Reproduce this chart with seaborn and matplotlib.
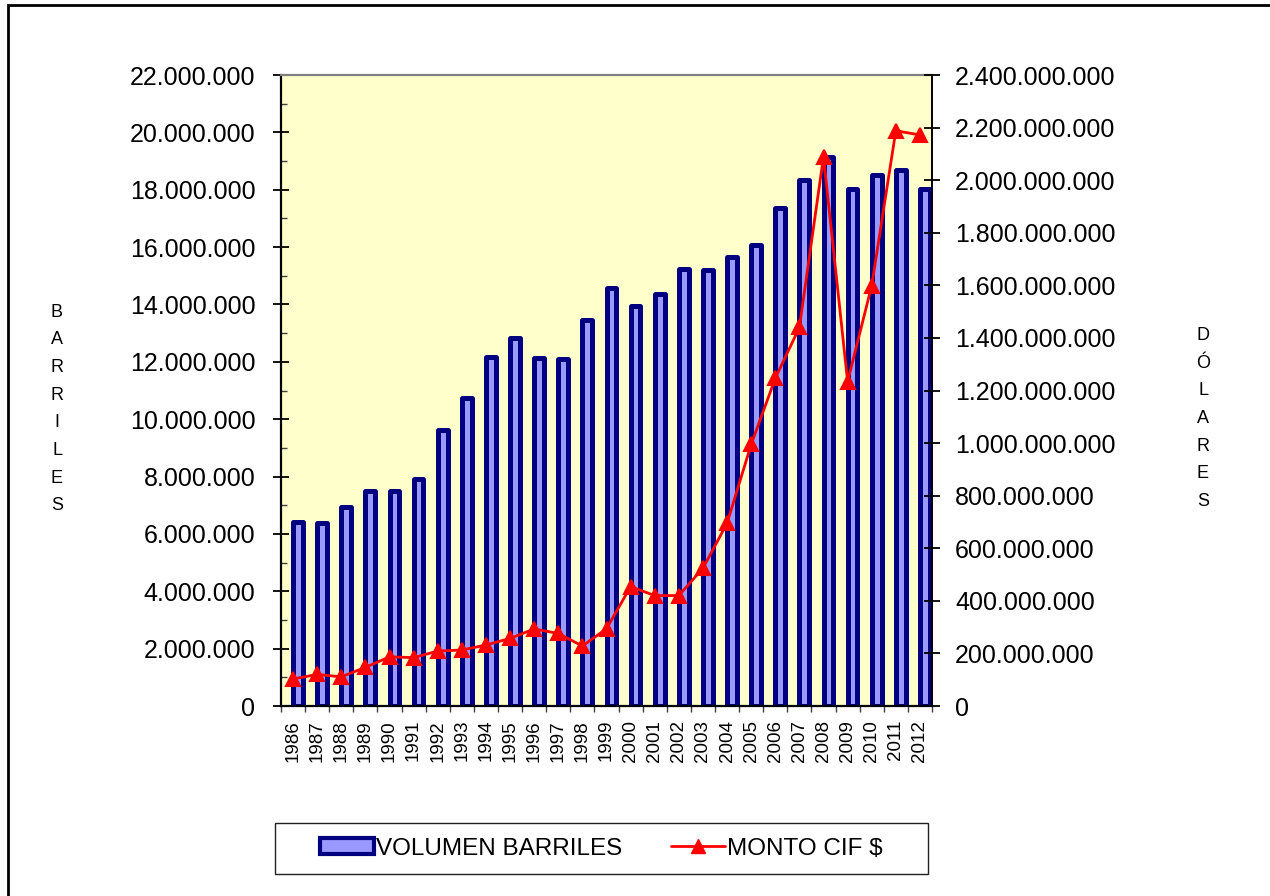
import numpy as np
import pandas as pd
import matplotlib
matplotlib.use("Agg")
import matplotlib.pyplot as plt
import matplotlib.patches as mpatches
from matplotlib.lines import Line2D
from matplotlib.ticker import FuncFormatter, MultipleLocator
import seaborn as sns

# ---- data ----
years = [str(y) for y in range(1986, 2013)]
volumen_barriles = [6.42e6, 6.37e6, 6.95e6, 7.49e6, 7.49e6, 7.91e6, 9.61e6, 10.74e6,
                    12.18e6, 12.84e6, 12.12e6, 12.09e6, 13.45e6, 14.58e6, 13.95e6,
                    14.38e6, 15.25e6, 15.21e6, 15.67e6, 16.06e6, 17.38e6, 18.34e6,
                    19.15e6, 18.04e6, 18.52e6, 18.69e6, 18.01e6]
monto_cif = [103e6, 120e6, 111e6, 147e6, 187e6, 184e6, 209e6, 213e6, 232e6, 257e6,
             293e6, 276e6, 228e6, 294e6, 454e6, 420e6, 420e6, 524e6, 695e6, 995e6,
             1246e6, 1440e6, 2089e6, 1234e6, 1599e6, 2188e6, 2172e6]
serie_bar = "VOLUMEN BARRILES"
serie_line = "MONTO CIF $"
left_ticks = list(range(0, 22000001, 2000000))
right_ticks = list(range(0, 2400000001, 200000000))

sns.set_theme(style="white")
plt.rcParams['font.family'] = ['Liberation Sans', 'DejaVu Sans']
plt.rcParams['text.color'] = 'black'
plt.rcParams['xtick.color'] = 'black'
plt.rcParams['ytick.color'] = 'black'
plt.rcParams['xtick.labelcolor'] = 'black'
plt.rcParams['ytick.labelcolor'] = 'black'

W, H = 1270, 896
fig = plt.figure(figsize=(W / 100, H / 100), dpi=100)
fig.patch.set_facecolor("white")
L, R, T, B = 281, 932, 75, 706
ax = fig.add_axes([L / W, 1 - B / H, (R - L) / W, (B - T) / H])
ax.set_facecolor("#FFFFCC")

df = pd.DataFrame({"year": years, "valor": volumen_barriles, "serie": serie_bar})
sns.barplot(data=df, x="year", y="valor", hue="serie", hue_order=["_", serie_bar],
            palette={"_": "#9999FF", serie_bar: "#9999FF"}, width=0.82, dodge=True,
            edgecolor="#000080", linewidth=3.6, saturation=1, legend=False, ax=ax, zorder=2)
for p in ax.patches:
    p.set_joinstyle("round")

n = len(years)
ax.set_xlim(-0.5, n - 0.5)
ax.set_ylim(0, 22000000)
ax.set_yticks(left_ticks)
ax.yaxis.set_minor_locator(MultipleLocator(1000000))
fmt = FuncFormatter(lambda v, p: f"{int(round(v)):,}".replace(",", "."))
ax.yaxis.set_major_formatter(fmt)
ax.tick_params(axis="y", which="major", direction="inout", length=11, width=1.3,
               color="black", labelcolor="black", labelsize=18, pad=13, left=True)
ax.tick_params(axis="y", which="minor", direction="in", length=4, width=1.0,
               color="#404040", left=True)

ax.set_xticks(np.arange(n + 1) - 0.5)
ax.set_xticklabels([])
ax.set_xticks(np.arange(n), minor=True)
ax.set_xticklabels(years, minor=True, rotation=90)
ax.tick_params(axis="x", which="major", direction="out", length=4.5, width=1.0,
               color="#404040", bottom=True)
ax.tick_params(axis="x", which="minor", length=0, labelsize=13.5, pad=10,
               labelcolor="black", bottom=True)
ax.set_xlabel("")
ax.set_ylabel("")

for s in ["left", "bottom"]:
    ax.spines[s].set_color("black")
    ax.spines[s].set_linewidth(1.6)
ax.spines["top"].set_color("#808080")
ax.spines["top"].set_linewidth(1.6)
ax.spines["right"].set_color("black")
ax.spines["right"].set_linewidth(1.4)

ax2 = ax.twinx()
sns.pointplot(x=years, y=monto_cif, ax=ax2, color="#FF0000", markers="^",
              linestyles="-", linewidth=2.0, markersize=9.5, errorbar=None, zorder=3)
ax2.set_xlim(-0.5, n - 0.5)
ax2.set_ylim(0, 2400000000)
ax2.set_yticks(right_ticks)
ax2.yaxis.set_major_formatter(fmt)
ax2.tick_params(axis="y", which="major", direction="inout", length=11, width=1.3,
                color="black", labelcolor="black", labelsize=18, pad=11, right=True)
ax2.set_ylabel("")
ax2.set_xlabel("")
for s in ax2.spines.values():
    s.set_visible(False)

# axis titles (stacked letters)
fig.text(57 / W, 1 - 409 / H, "\n".join("BARRILES"), ha="center", va="center",
         fontsize=13, linespacing=1.82, color="black")
fig.text(1203 / W, 1 - 418.5 / H, "\n".join("DÓLARES"), ha="center", va="center",
         fontsize=13, linespacing=1.82, color="black")

# legend
h1 = mpatches.Patch(facecolor="#9999FF", edgecolor="#000080", linewidth=3.0, label=serie_bar)
h2 = Line2D([], [], color="#FF0000", marker="^", markersize=9.5, linewidth=2.0, label=serie_line)
leg = fig.legend(handles=[h1, h2], loc="center",
                 bbox_to_anchor=(((275 + 928) / 2) / W, 1 - 848.5 / H),
                 ncol=2, frameon=False, fontsize=17.5, handlelength=2.2, handleheight=0.6,
                 handletextpad=0.1, columnspacing=2.0)
for t in leg.get_texts():
    t.set_color("black")
fig.add_artist(mpatches.Rectangle((275 / W, 1 - 874 / H), (928 - 275) / W, 51 / H,
                                  transform=fig.transFigure, fill=False,
                                  edgecolor="#202020", linewidth=1.0))
# outer chart border
fig.add_artist(mpatches.Rectangle((8 / W, -0.05), 1.2, 1.05 - 5 / H,
                                  transform=fig.transFigure, fill=False,
                                  edgecolor="black", linewidth=2.0))

fig.savefig("out.png", dpi=100)
